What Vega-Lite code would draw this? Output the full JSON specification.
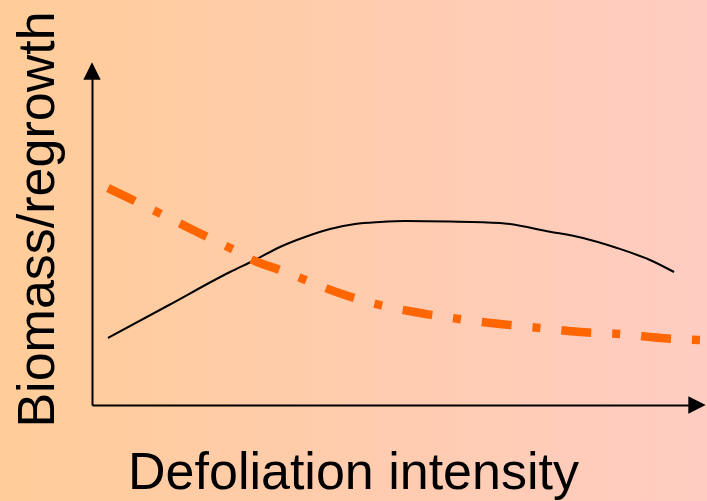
{
  "$schema": "https://vega.github.io/schema/vega-lite/v6.json",
  "width": 707,
  "height": 501,
  "padding": 0,
  "autosize": {"type": "none"},
  "config": {
    "view": {
      "stroke": null,
      "fill": {"gradient": "linear", "x1": 0, "y1": 0, "x2": 1, "y2": 0,
        "stops": [{"offset": 0, "color": "#FFCC99"}, {"offset": 1, "color": "#FFCCC2"}]}
    },
    "font": "Liberation Sans"
  },
  "datasets": {
    "growth": [
      {"x": 2.64, "y": 20.06}, {"x": 12.89, "y": 30.09}, {"x": 22.81, "y": 39.82},
      {"x": 26.94, "y": 43.41}, {"x": 31.07, "y": 47.31}, {"x": 35.21, "y": 50.3},
      {"x": 39.34, "y": 52.69}, {"x": 43.47, "y": 54.19}, {"x": 47.6, "y": 54.79},
      {"x": 51.74, "y": 55.09}, {"x": 59.17, "y": 54.94}, {"x": 67.44, "y": 54.49},
      {"x": 75.7, "y": 51.89}, {"x": 81.16, "y": 50.0}, {"x": 86.78, "y": 47.01},
      {"x": 92.23, "y": 43.41}, {"x": 96.2, "y": 39.82}
    ],
    "removal": [
      {"x": 2.64, "y": 64.97}, {"x": 7.11, "y": 61.08}, {"x": 10.74, "y": 57.78},
      {"x": 16.69, "y": 52.4}, {"x": 22.81, "y": 47.01}, {"x": 26.94, "y": 43.11},
      {"x": 31.07, "y": 40.42}, {"x": 34.88, "y": 37.72}, {"x": 41.32, "y": 33.23},
      {"x": 47.6, "y": 29.94}, {"x": 54.21, "y": 27.54}, {"x": 60.66, "y": 25.75},
      {"x": 67.44, "y": 24.25}, {"x": 74.05, "y": 23.05}, {"x": 80.66, "y": 21.86},
      {"x": 87.27, "y": 21.26}, {"x": 94.05, "y": 20.06}, {"x": 100.66, "y": 19.46}
    ],
    "yarrow": [{"x": 0, "y": 100}],
    "xarrow": [{"x": 100, "y": 0}]
  },
  "layer": [
    {
      "data": {"name": "growth"},
      "mark": {"type": "line", "color": "#000000", "strokeWidth": 2, "interpolate": "monotone"},
      "encoding": {
        "x": {"field": "x", "type": "quantitative",
          "scale": {"domain": [0, 100], "range": [92, 697], "nice": false, "zero": false},
          "axis": {"title": "Defoliation intensity", "orient": "bottom", "offset": -96,
            "grid": false, "ticks": false, "labels": false, "domainColor": "#000000", "domainWidth": 2,
            "titleFontSize": 52, "titleFontWeight": "normal", "titleColor": "#000000",
            "titleX": 353, "titleY": 83, "titleAlign": "center", "titleBaseline": "alphabetic", "zindex": 1}},
        "y": {"field": "y", "type": "quantitative",
          "scale": {"domain": [0, 100], "range": [405, 71], "nice": false, "zero": false},
          "axis": {"title": "Biomass/regrowth", "orient": "left", "offset": -92,
            "grid": false, "ticks": false, "labels": false, "domainColor": "#000000", "domainWidth": 2,
            "titleFontSize": 52, "titleFontWeight": "normal", "titleColor": "#000000",
            "titleX": -39, "titleY": 219, "titleAngle": -90, "titleAlign": "center", "titleBaseline": "alphabetic", "zindex": 1}}
      }
    },
    {
      "data": {"name": "removal"},
      "mark": {"type": "line", "color": "#FF6600", "strokeWidth": 8.5, "strokeDash": [30, 21, 8, 21], "interpolate": "monotone"},
      "encoding": {
        "x": {"field": "x", "type": "quantitative"},
        "y": {"field": "y", "type": "quantitative"}
      }
    },
    {
      "data": {"name": "yarrow"},
      "mark": {"type": "point", "shape": "M0,-1L1,1L-1,1Z", "filled": true, "color": "#000000", "opacity": 1, "size": 300},
      "encoding": {
        "x": {"field": "x", "type": "quantitative"},
        "y": {"field": "y", "type": "quantitative"}
      }
    },
    {
      "data": {"name": "xarrow"},
      "mark": {"type": "point", "shape": "M1,0L-1,-1L-1,1Z", "filled": true, "color": "#000000", "opacity": 1, "size": 300},
      "encoding": {
        "x": {"field": "x", "type": "quantitative"},
        "y": {"field": "y", "type": "quantitative"}
      }
    }
  ]
}
